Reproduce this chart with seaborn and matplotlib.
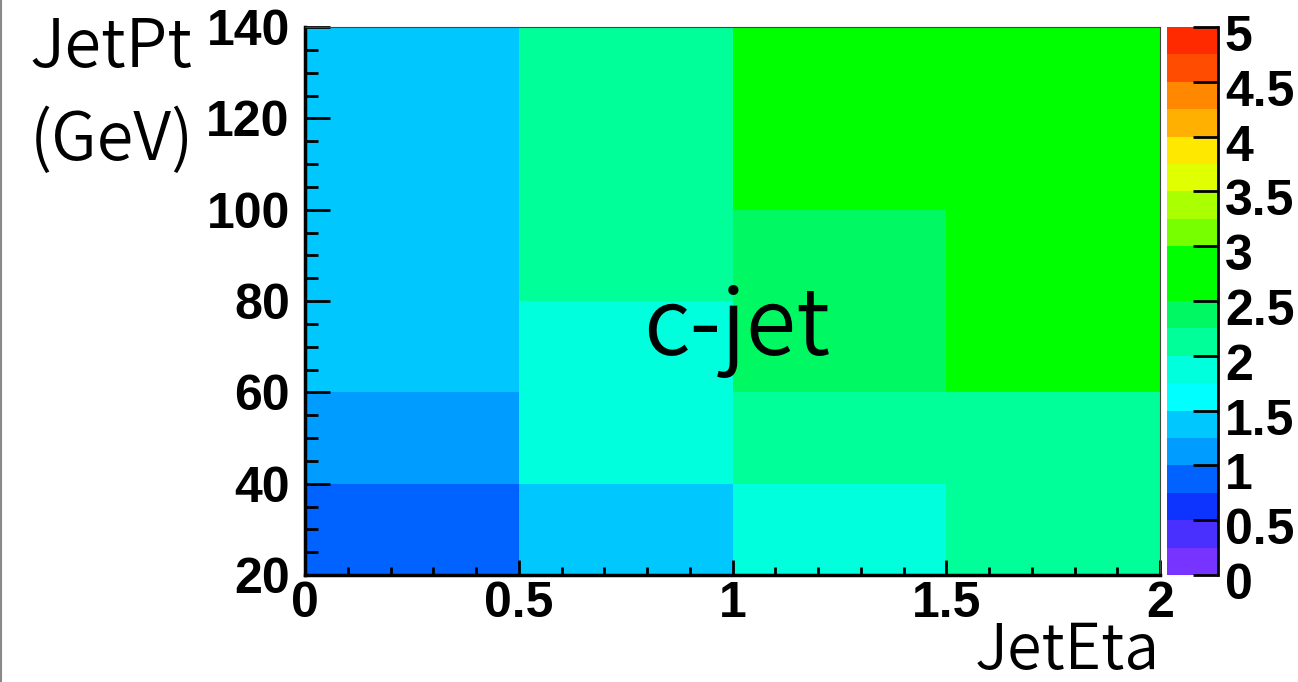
import numpy as np
import pandas as pd
import matplotlib
matplotlib.use("Agg")
import matplotlib.pyplot as plt
from matplotlib.colors import ListedColormap
from matplotlib.lines import Line2D
from matplotlib.transforms import ScaledTranslation
import seaborn as sns

# ---------------- data ----------------
eta_bins = ["0-0.5", "0.5-1", "1-1.5", "1.5-2"]
pt_bins = ["20-40", "40-60", "60-80", "80-100", "100-120", "120-140"]
eta_tick_labels = ["0", "0.5", "1", "1.5", "2"]
pt_tick_labels = ["20", "40", "60", "80", "100", "120", "140"]
z_ticks = [0, 0.5, 1, 1.5, 2, 2.5, 3, 3.5, 4, 4.5, 5]
z_tick_labels = ["0", "0.5", "1", "1.5", "2", "2.5", "3", "3.5", "4", "4.5", "5"]

# values per eta bin, listed from low pt to high pt
vals_eta_0_05 = [0.88, 1.12, 1.38, 1.38, 1.38, 1.38]
vals_eta_05_1 = [1.38, 1.88, 1.88, 2.12, 2.12, 2.12]
vals_eta_1_15 = [1.88, 2.12, 2.38, 2.38, 2.62, 2.62]
vals_eta_15_2 = [2.12, 2.12, 2.62, 2.62, 2.62, 2.62]

palette_colors = [
    "#7733ff", "#4a30ff", "#0d33ff", "#0062ff", "#009cff",
    "#00c8ff", "#00ffff", "#00ffdc", "#00ff99", "#00f862",
    "#00ff00", "#00ff00", "#77ff00", "#aaff00", "#e0ff00",
    "#ffe800", "#ffb000", "#ff8800", "#ff4c00", "#ff2a00",
]

title_text = "c-jet"
x_title = "JetEta"
y_title = "JetPt\n(GeV)"

# ---------------- figure ----------------
df = pd.DataFrame(
    {eta_bins[0]: vals_eta_0_05, eta_bins[1]: vals_eta_05_1,
     eta_bins[2]: vals_eta_1_15, eta_bins[3]: vals_eta_15_2},
    index=pt_bins,
)

plt.rcParams["font.family"] = ["Liberation Sans", "DejaVu Sans"]
label_font = ["Noto Sans CJK JP", "DejaVu Sans"]
LABEL_W = 350

W, H = 1298, 682
fig = plt.figure(figsize=(W / 100, H / 100), dpi=100)
ax = fig.add_axes([305 / W, 1 - 575 / H, 855 / W, 548 / H])
cax = fig.add_axes([1167 / W, 1 - 575 / H, 51 / W, 548 / H])

cmap = ListedColormap(palette_colors)
sns.heatmap(df, ax=ax, cmap=cmap, vmin=0, vmax=5, cbar_ax=cax, linewidths=0)

nx, ny = len(eta_bins), len(pt_bins)
ax.set_xlim(0, nx)
ax.set_ylim(0, ny)

for s in ax.spines.values():
    s.set_visible(True)
ax.spines["left"].set_linewidth(2.5)
ax.spines["bottom"].set_linewidth(2.5)
ax.spines["top"].set_linewidth(0.8)
ax.spines["right"].set_linewidth(0.8)
ax.spines["top"].set_color("#444444")
ax.spines["right"].set_color("#444444")

TICK_FS = 36
ax.set_xticks(np.arange(nx + 1))
ax.set_xticklabels(eta_tick_labels, rotation=0, fontsize=TICK_FS, fontweight="bold")
ax.set_xticks(np.arange(0, nx + 0.001, 0.2), minor=True)
ax.set_yticks(np.arange(ny + 1))
ax.set_yticklabels(pt_tick_labels, rotation=0, fontsize=TICK_FS, fontweight="bold", va="center")
ax.set_yticks(np.arange(0, ny + 0.001, 0.25), minor=True)

ax.tick_params(axis="x", which="major", direction="in", length=11, width=2, pad=4,
               bottom=True, top=False)
ax.tick_params(axis="x", which="minor", direction="in", length=6, width=2,
               bottom=True, top=False)
ax.tick_params(axis="y", which="major", direction="in", length=18, width=2, pad=11,
               left=True, right=False)
ax.tick_params(axis="y", which="minor", direction="in", length=9, width=2,
               left=True, right=False)

ax.set_xlabel(x_title, fontsize=45, family=label_font, fontweight=LABEL_W,
              ha="right", va="baseline")
ax.xaxis.set_label_coords(1.0, -0.1715)
ax.set_ylabel(y_title, fontsize=48, family=label_font, fontweight=LABEL_W, rotation=0,
              ha="left", va="top", linespacing=1.47)
ax.yaxis.set_label_coords(-0.322, 1.0245)

ax.text(0.505, 0.401, title_text, transform=ax.transAxes, ha="center", va="baseline",
        fontsize=66, family=label_font, fontweight=LABEL_W)

# colorbar
cbar = ax.collections[0].colorbar
cbar.set_ticks(z_ticks)
cbar.set_ticklabels(z_tick_labels)
cbar.outline.set_visible(False)
cax.tick_params(direction="in", length=18, width=2, pad=5, labelsize=TICK_FS,
                right=True, labelright=True, left=False, labelleft=False)
for t in cax.get_yticklabels():
    t.set_fontweight("bold")
cax.add_line(Line2D([1, 1], [0, 1], transform=cax.transAxes, color="black", lw=2,
                    clip_on=False))

# small downward shift of the vertical-axis labels (as in the reference)
shift = ScaledTranslation(0, -5 / 100, fig.dpi_scale_trans)
for tk in ax.yaxis.get_major_ticks():
    tk.label1.set_transform(tk.label1.get_transform() + shift)
shift_c = ScaledTranslation(0, -6 / 100, fig.dpi_scale_trans)
for tk in cax.yaxis.get_major_ticks():
    tk.label2.set_transform(tk.label2.get_transform() + shift_c)

fig.add_artist(Line2D([0.001, 0.001], [0, 1], transform=fig.transFigure,
                      color="#888888", lw=1.5))

fig.savefig("out.png", dpi=100)
